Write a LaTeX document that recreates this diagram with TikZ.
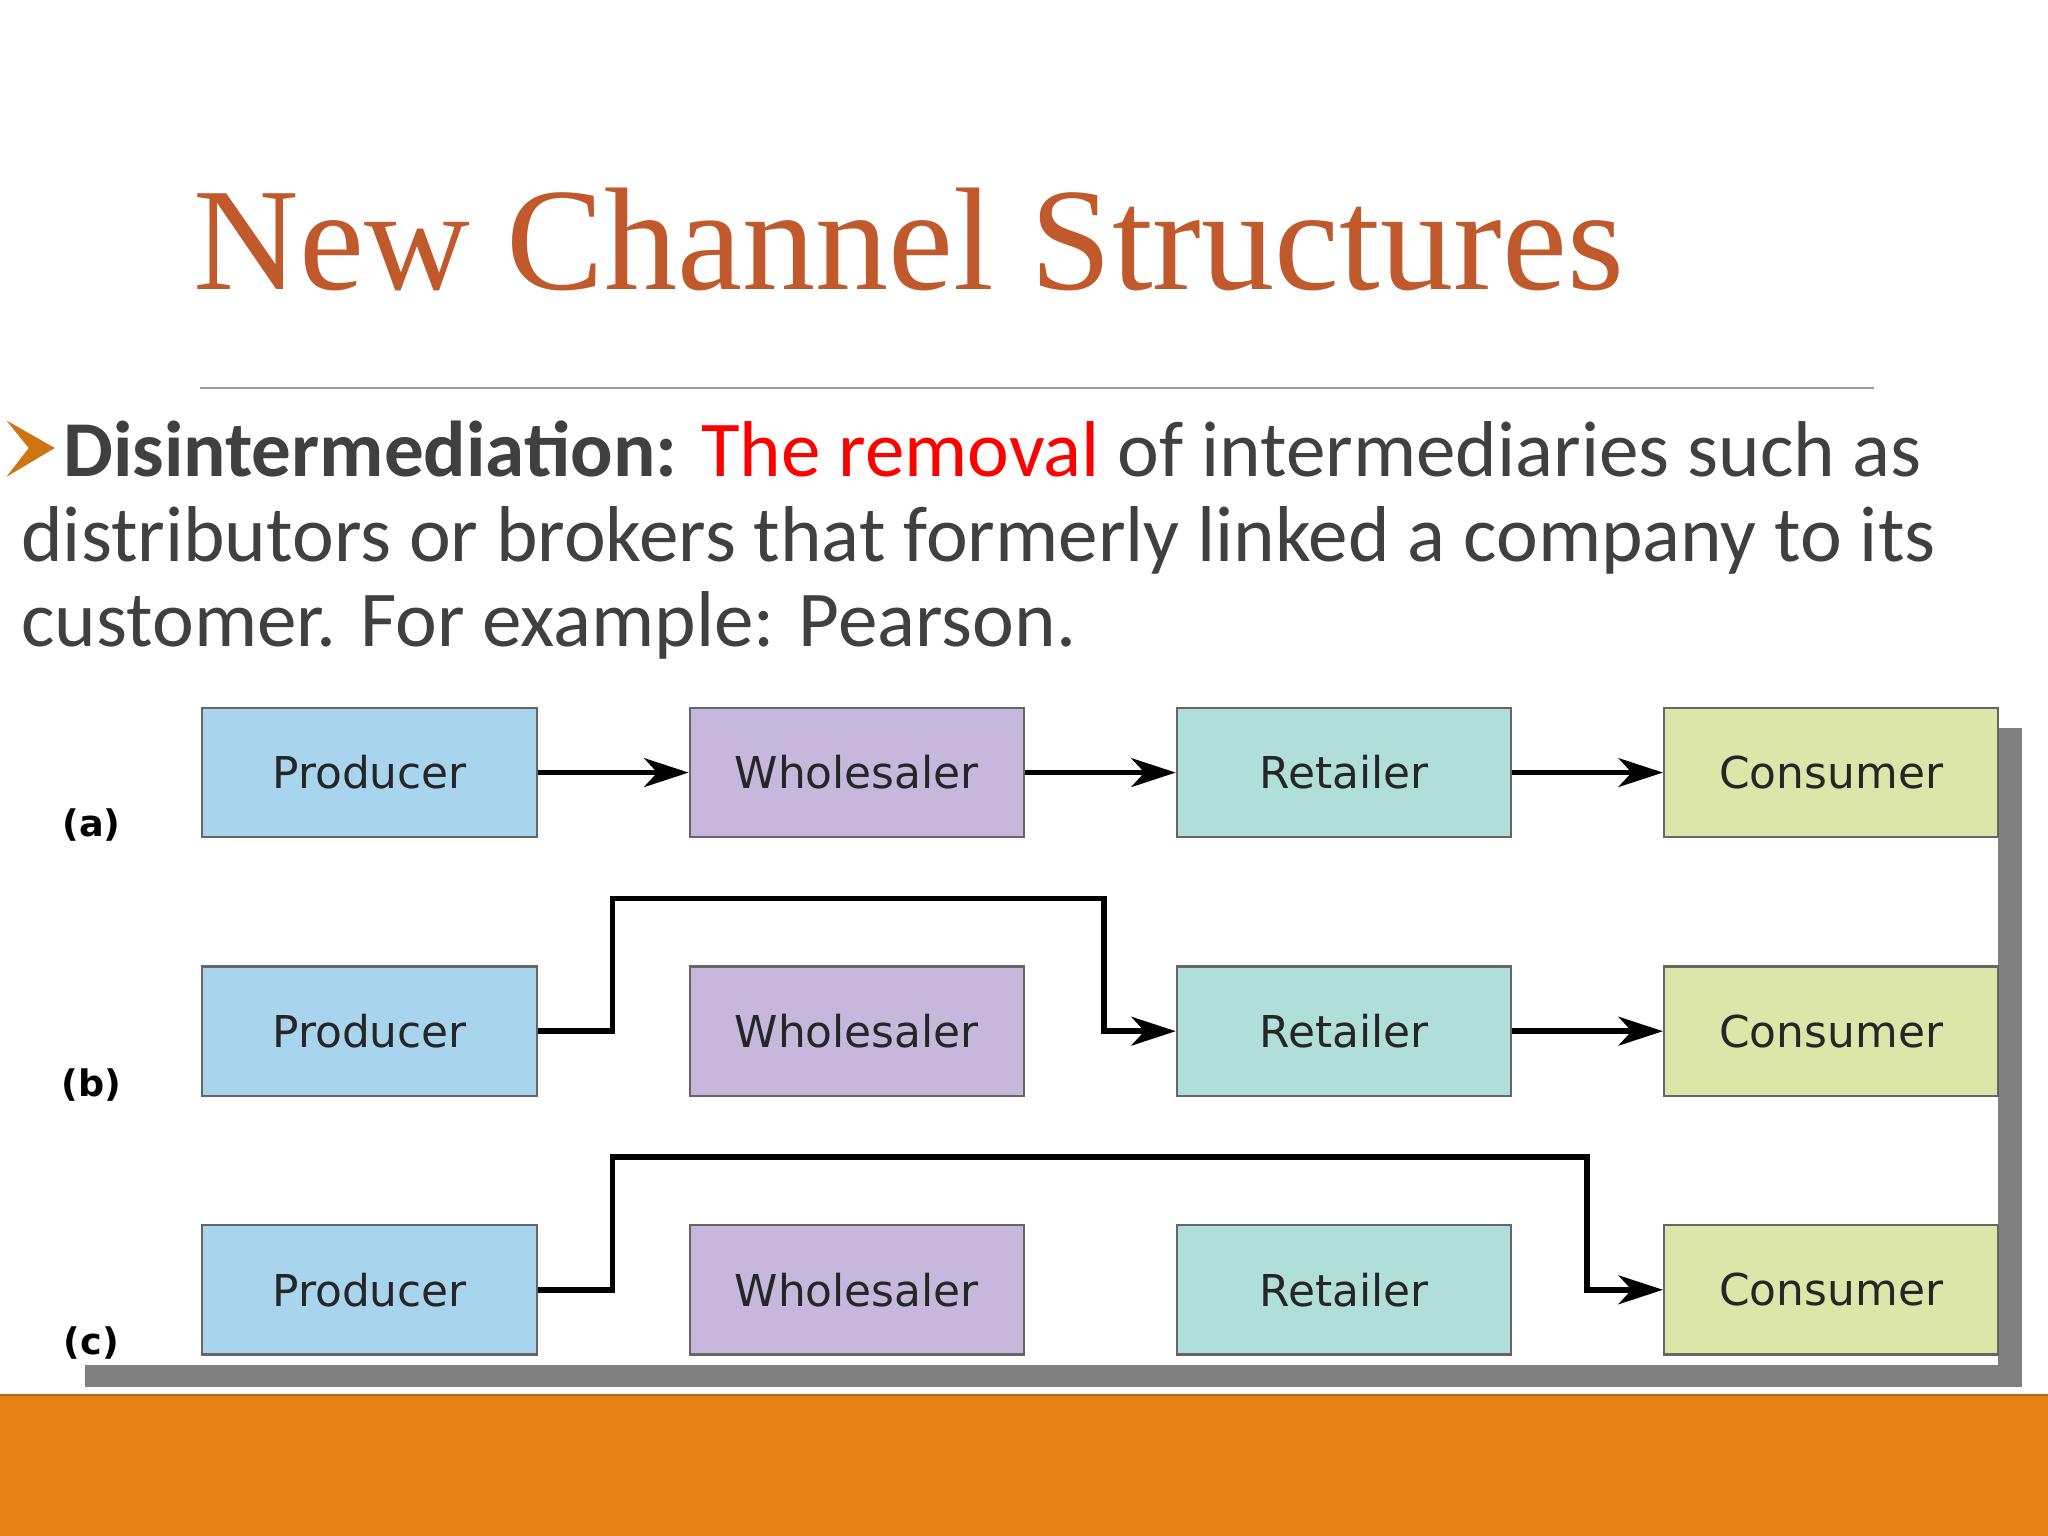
\documentclass[tikz,border=0pt]{standalone}
\usepackage{fontspec}
\setmainfont{Liberation Serif}
\newfontfamily\carl{Carlito}
\newfontfamily\dv{DejaVu Sans}
\usetikzlibrary{arrows.meta}
\definecolor{ttl}{HTML}{C05A2C}
\definecolor{txt}{HTML}{404040}
\definecolor{band}{HTML}{E48213}
\definecolor{cp}{HTML}{A9D4EE}
\definecolor{cw}{HTML}{C5B8DC}
\definecolor{cr}{HTML}{B0DFDA}
\definecolor{cc}{HTML}{DCE6A9}
\begin{document}
\begin{tikzpicture}[x=0.5pt,y=-0.5pt,
 box/.style={draw=black!60,line width=0.8pt,minimum width=128pt,minimum height=49.5pt,inner sep=0pt,font=\dv\fontsize{16.8}{20}\selectfont,text=black!85},
 arr/.style={line width=2.2pt,-{Stealth[length=17pt,width=11pt,inset=5pt]}},
 lab/.style={font=\dv\bfseries\fontsize{14}{16}\selectfont},
 body/.style={anchor=base west,inner sep=0pt,text=txt,font=\carl\fontsize{30.3}{30.3}\selectfont}]
\useasboundingbox (0,0) rectangle (1568,1176);
\fill[white] (0,0) rectangle (1568,1176);
\node[anchor=base west,text=ttl,font=\fontsize{56}{60}\selectfont,inner sep=0pt] (title) at (148,222) {New Channel Structures};
\draw[black!40,line width=0.7pt] (153,297) -- (1435,297);
\fill[band!90!black] (5,322) -- (42,343) -- (5,365) -- (22,343) -- cycle;
\node[body] (l1) at (48,365) {\textbf{Disintermediation:} \textcolor{red}{The removal} of intermediaries such as};
\node[body] (l2) at (16,430) {distributors or brokers that formerly linked a company to its};
\node[body] (l3) at (16,495) {customer. For example: Pearson.};
% shadow
\fill[black!50] (1530,557) rectangle (1548,1062);
\fill[black!50] (65,1045) rectangle (1548,1062);
\foreach \r/\y in {a/591.5,b/789.5,c/987.5}{
 \node[box,fill=cp] (p\r) at (283,\y) {Producer};
 \node[box,fill=cw] (w\r) at (656,\y) {Wholesaler};
 \node[box,fill=cr] (r\r) at (1029,\y) {Retailer};
 \node[box,fill=cc] (c\r) at (1402,\y) {Consumer};
}
\node[lab] (la) at (70,632) {(a)};
\node[lab] (lb) at (70,831) {(b)};
\node[lab] (lc) at (70,1028) {(c)};
\draw[arr] (pa) -- (wa);
\draw[arr] (wa) -- (ra);
\draw[arr] (ra) -- (ca);
\draw[arr] (pb.east) -- (469,789.5) -- (469,688) -- (845,688) -- (845,789.5) -- (rb.west);
\draw[arr] (rb) -- (cb);
\draw[arr] (pc.east) -- (469,987.5) -- (469,886) -- (1215,886) -- (1215,987.5) -- (cc.west);
\fill[band] (0,1068) rectangle (1568,1176);
\draw[band!80!black,line width=1pt] (0,1068) -- (1568,1068);
\end{tikzpicture}
\end{document}
